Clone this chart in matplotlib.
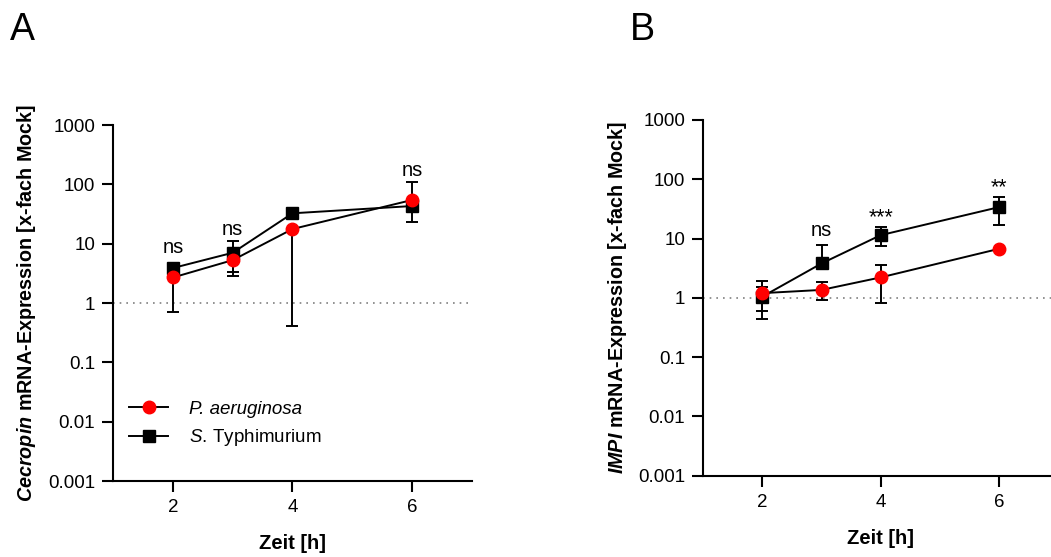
import matplotlib.pyplot as plt
from matplotlib.ticker import FixedLocator, NullLocator

plt.rcParams['font.family'] = ['Liberation Sans', 'DejaVu Sans']
plt.rcParams['mathtext.fontset'] = 'custom'
plt.rcParams['mathtext.rm'] = 'Liberation Sans'
plt.rcParams['mathtext.it'] = 'Liberation Sans:italic'
plt.rcParams['mathtext.bf'] = 'Liberation Sans:bold'
plt.rcParams['mathtext.bfit'] = 'Liberation Sans:bold:italic'

zeit = [2, 3, 4, 6]

# A: Cecropin
cec_pa = [2.7, 5.3, 17.7, 54.6]
cec_pa_lo = [0.71, 2.85, 0.41, 54.6]
cec_pa_hi = [2.7, 5.3, 17.7, 111]
cec_st = [3.9, 7.05, 32.6, 43.2]
cec_st_lo = [3.9, 3.4, 32.6, 23]
cec_st_hi = [3.9, 11.2, 32.6, 43.2]
cec_sig_x = [2, 3, 6]
cec_sig = ['ns', 'ns', 'ns']
cec_sig_y = [6.95, 14.1, 140]

# B: IMPI
impi_pa = [1.2, 1.36, 2.21, 6.7]
impi_pa_lo = [0.60, 0.91, 0.81, 6.7]
impi_pa_hi = [1.53, 1.82, 3.56, 6.7]
impi_st = [1.05, 3.8, 11.4, 33.8]
impi_st_lo = [0.44, 3.8, 7.5, 16.8]
impi_st_hi = [1.94, 7.65, 15.4, 50.5]
impi_sig_x = [3, 4, 6]
impi_sig = ['ns', '***', '**']
impi_sig_y = [11.0, 18.5, 57.6]

yticks = [0.001, 0.01, 0.1, 1, 10, 100, 1000]
ytick_labels = ['0.001', '0.01', '0.1', '1', '10', '100', '1000']
xticks = [2, 4, 6]


def panel(ax, pa, pa_lo, pa_hi, st, st_lo, st_hi, sig_x, sig, sig_y, gene):
    ax.axhline(1, color='#808080', ls=(0, (1, 3)), lw=1.2, zorder=1)
    ax.errorbar(zeit, st, yerr=[[m - l for m, l in zip(st, st_lo)], [h - m for m, h in zip(st, st_hi)]],
                fmt='none', ecolor='black', elinewidth=1.4, capsize=4, capthick=1.4, zorder=2)
    ax.errorbar(zeit, pa, yerr=[[m - l for m, l in zip(pa, pa_lo)], [h - m for m, h in zip(pa, pa_hi)]],
                fmt='none', ecolor='black', elinewidth=1.4, capsize=4, capthick=1.4, zorder=2)
    l_st, = ax.plot(zeit, st, color='black', lw=1.4, marker='s', ms=8, mfc='black', mec='black', zorder=3,
                    label=r'$\mathit{S.}\,$Typhimurium')
    l_pa, = ax.plot(zeit, pa, color='black', lw=1.4, marker='o', ms=9, mfc='red', mec='red', zorder=4,
                    label='P. aeruginosa')
    for x, s, y in zip(sig_x, sig, sig_y):
        ax.text(x, y, s, ha='center', va='baseline', fontsize=14.5 if s == 'ns' else 15.5)

    ax.set_yscale('log')
    ax.set_ylim(0.001, 1000)
    ax.set_xlim(1, 7)
    ax.yaxis.set_major_locator(FixedLocator(yticks))
    ax.yaxis.set_minor_locator(NullLocator())
    ax.set_yticklabels(ytick_labels)
    ax.set_xticks(xticks)
    for side in ['top', 'right']:
        ax.spines[side].set_visible(False)
    for side in ['left', 'bottom']:
        ax.spines[side].set_linewidth(1.5)
    ax.tick_params(direction='out', length=8, width=1.5, labelsize=13.5, pad=5)
    ax.set_xlabel('Zeit [h]', fontsize=14.5, fontweight='bold')
    ax.xaxis.set_label_coords(0.5, -0.15)
    ax.set_ylabel(r'$\mathbfit{' + gene + '}$ mRNA-Expression [x-fach Mock]', fontsize=14.2, fontweight='bold')
    ax.yaxis.set_label_coords(-0.21, 0.5)
    return l_pa, l_st


fig = plt.figure(figsize=(10.51, 5.57), dpi=100)
axA = fig.add_axes([0.1078, 0.1364, 0.341, 0.639])
axB = fig.add_axes([0.6692, 0.146, 0.3374, 0.6386])

h_pa, h_st = panel(axA, cec_pa, cec_pa_lo, cec_pa_hi, cec_st, cec_st_lo, cec_st_hi,
                   cec_sig_x, cec_sig, cec_sig_y, 'Cecropin')
panel(axB, impi_pa, impi_pa_lo, impi_pa_hi, impi_st, impi_st_lo, impi_st_hi,
      impi_sig_x, impi_sig, impi_sig_y, 'IMPI')

leg = axA.legend(handles=[h_pa, h_st], loc='upper left', bbox_to_anchor=(0.044, 0.226), frameon=False,
                 fontsize=13.5, handlelength=2.1, handletextpad=1.1, labelspacing=0.52, borderpad=0,
                 borderaxespad=0)
leg.get_texts()[0].set_style('italic')

fig.text(10 / 1051, 1 - 40 / 557, 'A', fontsize=27, ha='left', va='baseline')
fig.text(630 / 1051, 1 - 40 / 557, 'B', fontsize=27, ha='left', va='baseline')

fig.savefig('out.png', dpi=100)
